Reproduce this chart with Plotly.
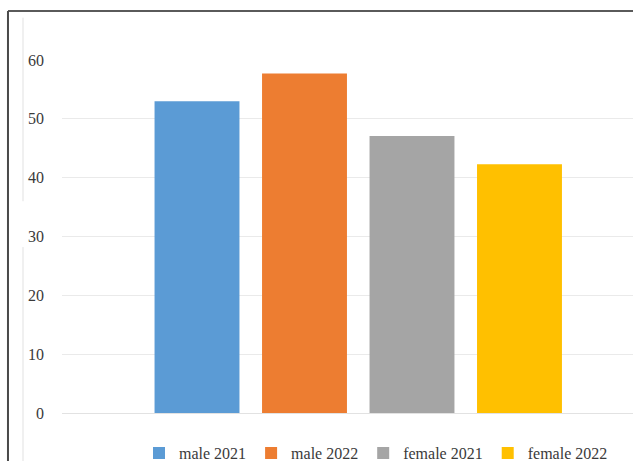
import plotly.graph_objects as go

# Survey share by sex and year
series_names = ["male 2021", "male 2022", "female 2021", "female 2022"]
series_values = [53.0, 57.7, 47.1, 42.3]
series_colors = ["#5B9BD5", "#ED7D31", "#A5A5A5", "#FFC000"]
y_ticks = [0, 10, 20, 30, 40, 50, 60]

FONT = "'Times New Roman', 'Liberation Serif', 'DejaVu Serif', serif"

fig = go.Figure()
for name, val, col in zip(series_names, series_values, series_colors):
    fig.add_trace(go.Bar(
        x=[name], y=[val], name=name,
        marker=dict(color=col, line=dict(width=0)),
        width=0.79,
    ))

fig.update_layout(
    width=633, height=461,
    margin=dict(l=62, r=0, t=60, b=48, autoexpand=False),
    paper_bgcolor="white", plot_bgcolor="white",
    barmode="overlay",
    font=dict(family=FONT, size=16, color="#3A3A3A"),
    showlegend=True,
    legend=dict(
        orientation="h", xref="container", yref="container",
        x=0.594, y=0.017, xanchor="center", yanchor="middle",
        font=dict(family=FONT, size=16, color="#3A3A3A"),
        itemwidth=30, tracegroupgap=0,
    ),
    xaxis=dict(
        type="category", categoryorder="array", categoryarray=series_names,
        range=[-1.256, 4.056], showticklabels=False, showgrid=False,
        zeroline=False, showline=False, ticks="",
    ),
    yaxis=dict(
        range=[0, 60], tickvals=y_ticks, ticktext=[str(v) for v in y_ticks],
        showgrid=True, gridcolor="#EAEAEA", gridwidth=1,
        zeroline=True, zerolinecolor="#E2E2E2", zerolinewidth=1,
        showline=False, ticks="", ticklabelstandoff=17,
        tickfont=dict(family=FONT, size=16, color="#3A3A3A"),
    ),
    shapes=[
        # outer frame (top and left edges)
        dict(type="line", xref="paper", yref="paper",
             x0=-0.0946, x1=1.02, y0=1.1388, y1=1.1388,
             line=dict(color="#5A5A5A", width=2)),
        dict(type="line", xref="paper", yref="paper",
             x0=-0.0946, x1=-0.0946, y0=1.1388, y1=-0.14,
             line=dict(color="#4A4A4A", width=2)),
        # faint inner frame edge
        dict(type="line", xref="paper", yref="paper",
             x0=-0.0683, x1=-0.0683, y0=1.12, y1=0.60,
             line=dict(color="#F0F0F0", width=2)),
        dict(type="line", xref="paper", yref="paper",
             x0=-0.0683, x1=-0.0683, y0=0.47, y1=-0.14,
             line=dict(color="#F0F0F0", width=2)),
    ],
)

fig.write_html("out.html")
